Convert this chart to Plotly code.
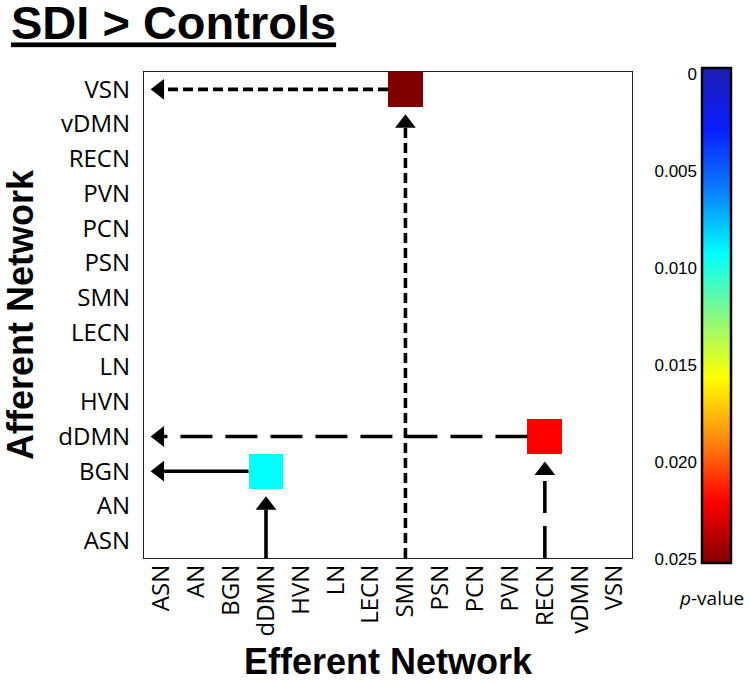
import plotly.graph_objects as go

# ---------------- data ----------------
networks = ["ASN", "AN", "BGN", "dDMN", "HVN", "LN", "LECN", "SMN",
            "PSN", "PCN", "PVN", "RECN", "vDMN", "VSN"]
efferent = ["dDMN", "RECN", "SMN"]          # source (x)
afferent = ["BGN", "dDMN", "VSN"]           # target (y)
p_values = [0.0094, 0.0219, 0.025]
line_dash = ["solid", "32px,13px", "10px,5px"]

cbar_ticks = [0, 0.005, 0.010, 0.015, 0.020, 0.025]
cbar_ticktext = ["0", "0.005", "0.010", "0.015", "0.020", "0.025"]

colorscale = [
    [0.0, "#1e1eb2"], [0.125, "#0a1eff"], [0.25, "#0a80ff"],
    [0.375, "#00ffff"], [0.5, "#86f886"], [0.625, "#ffff00"],
    [0.75, "#ff8a10"], [0.875, "#ff0000"], [1.0, "#800000"],
]

# ---------------- geometry ----------------
W, H = 749, 682
ML, MR, MT, MB = 144, 10, 60, 110
PW, PH = W - ML - MR, H - MT - MB
plot_x0, plot_x1 = 144, 632
plot_y0, plot_y1 = 72, 558
n = len(networks)
px_x = (plot_x1 - plot_x0) / n
px_y = (plot_y1 - plot_y0) / n

def fx(px):
    return (px - ML) / PW

def fy(py):
    return (H - MB - py) / PH

# ---------------- matrix ----------------
z = [[None] * n for _ in range(n)]
for e, a, p in zip(efferent, afferent, p_values):
    z[networks.index(a)][networks.index(e)] = p

fig = go.Figure()
fig.add_trace(go.Heatmap(
    z=z, x=list(range(n)), y=list(range(n)),
    coloraxis="coloraxis", hoverongaps=False,
    hovertemplate="Efferent %{x}<br>Afferent %{y}<br>p = %{z}<extra></extra>",
))

# ---------------- arrows ----------------
MS = 18                       # triangle marker size
tip = 0.866 * MS              # center -> tip distance (px)
base = 0.25 * MS              # center -> base distance (px)
LW = 3.6
for e, a, d in zip(efferent, afferent, line_dash):
    c = networks.index(e)
    r = networks.index(a)
    # horizontal: from cell left edge to y-axis
    xc = -0.5 + tip / px_x
    fig.add_trace(go.Scatter(
        x=[c - 0.5, xc + base / px_x], y=[r, r], mode="lines",
        line=dict(color="black", width=LW, dash=d),
        hoverinfo="skip", showlegend=False, cliponaxis=False))
    fig.add_trace(go.Scatter(
        x=[xc], y=[r], mode="markers",
        marker=dict(symbol="triangle-left", size=MS, color="black", line=dict(width=0)),
        hoverinfo="skip", showlegend=False, cliponaxis=False))
    # vertical: from x-axis up to the cell
    yc = r - 0.5 - (tip + 1) / px_y
    fig.add_trace(go.Scatter(
        x=[c, c], y=[-0.5, yc - base / px_y], mode="lines",
        line=dict(color="black", width=LW, dash=d),
        hoverinfo="skip", showlegend=False, cliponaxis=False))
    fig.add_trace(go.Scatter(
        x=[c], y=[yc], mode="markers",
        marker=dict(symbol="triangle-up", size=MS, color="black", line=dict(width=0)),
        hoverinfo="skip", showlegend=False, cliponaxis=False))

# colour-bar legend: 0 at the top, 0.025 at the bottom (uses a mirrored axis)
fig.add_trace(go.Scatter(
    x=[0, 0], y=[cbar_ticks[0], cbar_ticks[-1]], mode="markers",
    marker=dict(size=1, opacity=0,
                color=[-cbar_ticks[0], -cbar_ticks[-1]], coloraxis="coloraxis2"),
    xaxis="x2", yaxis="y2", hoverinfo="skip", showlegend=False))

tick_font = dict(family="Open Sans", size=24, color="black")
title_font = dict(family="Liberation Sans", size=36, color="black", weight="bold")

fig.update_layout(
    width=W, height=H,
    margin=dict(l=ML, r=MR, t=MT, b=MB, autoexpand=False),
    paper_bgcolor="white", plot_bgcolor="white",
    title=dict(
        text="<u>SDI &gt; Controls</u>",
        font=dict(family="Liberation Sans", size=47, color="black", weight="bold"),
        xref="container", yref="container",
        x=11 / W, xanchor="left", y=1 - 23 / H, yanchor="middle",
    ),
    coloraxis=dict(
        colorscale=colorscale, cmin=cbar_ticks[0], cmax=cbar_ticks[-1],
        showscale=False,
    ),
    coloraxis2=dict(
        colorscale=colorscale, reversescale=True,
        cmin=-cbar_ticks[-1], cmax=-cbar_ticks[0],
        colorbar=dict(
            x=fx(702), xanchor="left", xpad=0, ypad=0,
            y=fy(68), yanchor="top", lenmode="pixels", len=495,
            thickness=29, outlinewidth=2.5, outlinecolor="black",
            showticklabels=False, ticks="",
        ),
    ),
    xaxis=dict(
        domain=[fx(plot_x0), fx(plot_x1)], range=[-0.5, n - 0.5],
        tickvals=list(range(n)), ticktext=networks, tickangle=-90,
        tickfont=tick_font, ticks="", ticklabelstandoff=-4,
        showgrid=False, zeroline=False, showline=True, mirror=True,
        linecolor="#222", linewidth=1.3,
        title=dict(text="Efferent Network", font=title_font, standoff=18),
        fixedrange=True,
    ),
    yaxis=dict(
        domain=[fy(plot_y1), fy(plot_y0)], range=[-0.5, n - 0.5],
        tickvals=list(range(n)), ticktext=networks,
        tickfont=tick_font, ticks="", ticklabelstandoff=8,
        showgrid=False, zeroline=False, showline=True, mirror=True,
        linecolor="#222", linewidth=1.3,
        title=dict(text="Afferent Network", font=title_font, standoff=34),
        fixedrange=True,
    ),
    xaxis2=dict(domain=[fx(702), fx(731)], anchor="y2", visible=False,
                range=[-1, 1], fixedrange=True),
    yaxis2=dict(domain=[fy(559), fy(74)], anchor="x2", side="left",
                range=[cbar_ticks[-1], cbar_ticks[0]],
                tickvals=cbar_ticks, ticktext=cbar_ticktext, ticks="",
                tickfont=dict(family="Liberation Sans", size=17, color="black"),
                ticklabelstandoff=4,
                showgrid=False, zeroline=False, showline=False, fixedrange=True),
    annotations=[dict(
        text="<i>p</i>-value", xref="paper", yref="paper",
        x=fx(746), y=fy(598), xanchor="right", yanchor="middle",
        showarrow=False, font=dict(family="Open Sans", size=19, color="black"),
    )],
    showlegend=False,
)

fig.write_html(
    "out.html",
    config={"displayModeBar": False},
    post_script="document.body.style.margin='0';document.body.style.overflow='hidden';",
)
